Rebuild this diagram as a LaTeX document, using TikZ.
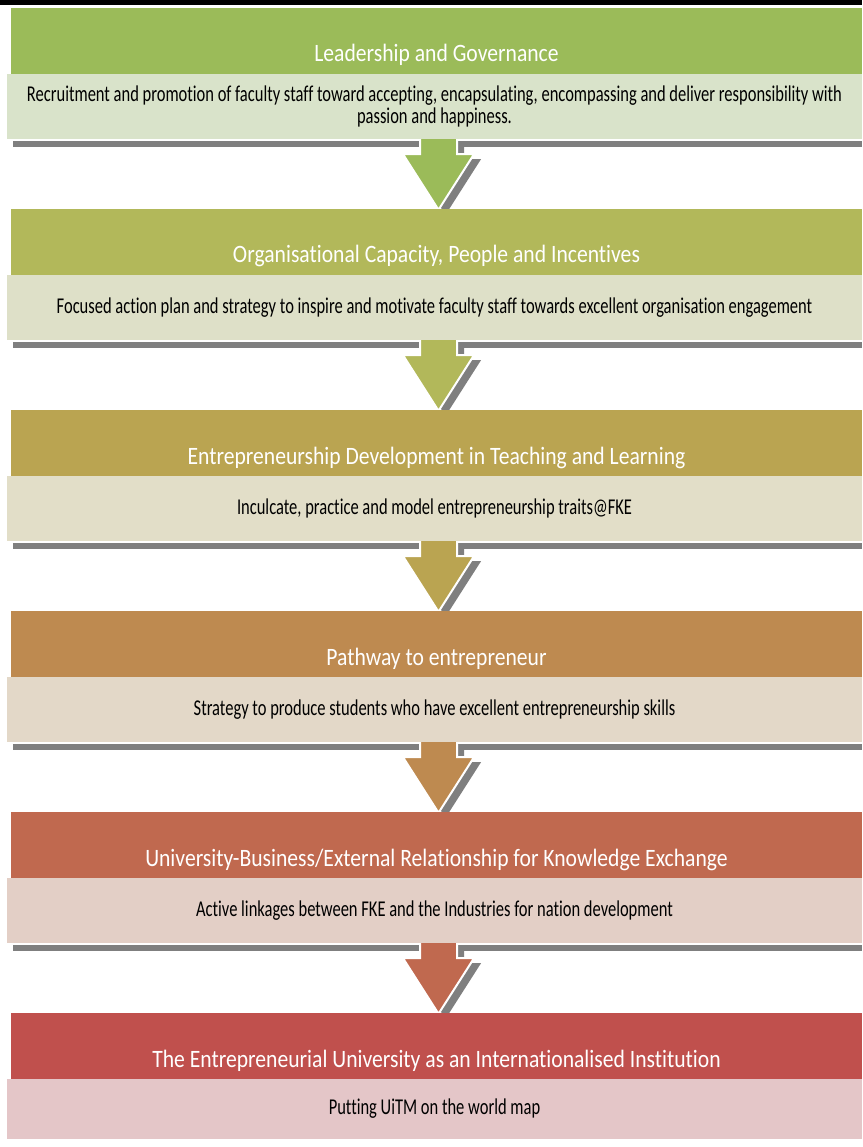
\documentclass[tikz,border=0pt]{standalone}
\usepackage{fontspec}
\setmainfont{Carlito}
\newfontfamily\hfont[FakeStretch=0.865,Ligatures=NoCommon]{Carlito}
\newfontfamily\sfont[FakeStretch=0.73,Ligatures=NoCommon]{Carlito}
\usetikzlibrary{calc}
\pgfdeclarelayer{bg}
\pgfsetlayers{bg,main}
\definecolor{hA}{HTML}{9BBB59}
\definecolor{hB}{HTML}{B2B85A}
\definecolor{hC}{HTML}{BAA451}
\definecolor{hD}{HTML}{BE8A50}
\definecolor{hE}{HTML}{C0694F}
\definecolor{hF}{HTML}{C0504D}
\definecolor{sA}{HTML}{D9E3CA}
\definecolor{sB}{HTML}{DEE0C8}
\definecolor{sC}{HTML}{E2DEC8}
\definecolor{sD}{HTML}{E3D8C8}
\definecolor{sE}{HTML}{E3CFC6}
\definecolor{sF}{HTML}{E4C6C8}
\definecolor{shadowgray}{HTML}{7F7F7F}
\newcommand\blockarrow[3]{%
  \path[#3] ($(axis |- #1.south)+(-18.5,-2)$) -- ($(axis |- #1.south)+(18.5,-2)$)
    -- ($(axis |- #1.south)+(18.5,15)$) -- ($(axis |- #1.south)+(35.5,15)$)
    -- ($(axis |- #2.north)+(0,1)$) -- ($(axis |- #1.south)+(-35.5,15)$)
    -- ($(axis |- #1.south)+(-18.5,15)$) -- cycle;}
\newcommand\shadowarrow[2]{%
  \path[fill=shadowgray] ($(axis |- #1.south)+(-11.5,3)$) -- ($(axis |- #1.south)+(25.5,3)$)
    -- ($(axis |- #1.south)+(25.5,20)$) -- ($(axis |- #1.south)+(42.5,20)$)
    -- ($(axis |- #2.north)+(7,6)$) -- ($(axis |- #1.south)+(-28.5,20)$)
    -- ($(axis |- #1.south)+(-11.5,20)$) -- cycle;}
\newcommand\shadowbar[1]{%
  \fill[shadowgray] ($(#1.south west)+(6,2)$) rectangle ($(#1.south east)+(0,8)$);}
\begin{document}
\begin{tikzpicture}[x=1pt,y=-1pt,
  hdr/.style={rectangle, inner sep=0pt, minimum width=851pt, minimum height=66pt,
    text=white, text height=42pt, text depth=0pt,
    font=\hfont\fontsize{25}{29}\selectfont},
  sub/.style={rectangle, inner sep=0pt, minimum width=855pt, minimum height=65pt,
    text=black, align=center, font=\sfont\fontsize{22.6}{22}\selectfont}]
\useasboundingbox (0,0) rectangle (862,1147);
\coordinate (axis) at (438.5,0);
\fill[black] (0,0) rectangle (862,5);
% sections
\node[hdr, fill=hA] (h1) at (436.5,41) {Leadership and Governance};
\node[sub, fill=sA] (s1) at (434.5,106.5) {Recruitment and promotion of faculty staff toward accepting, encapsulating, encompassing and deliver responsibility with\\passion and happiness.};
\node[hdr, fill=hB] (h2) at (436.5,242) {Organisational Capacity, People and Incentives};
\node[sub, fill=sB] (s2) at (434.5,307.5) {Focused action plan and strategy to inspire and motivate faculty staff towards excellent organisation engagement};
\node[hdr, fill=hC] (h3) at (436.5,443) {Entrepreneurship Development in Teaching and Learning};
\node[sub, fill=sC] (s3) at (434.5,508.5) {Inculcate, practice and model entrepreneurship traits@FKE};
\node[hdr, fill=hD] (h4) at (436.5,644) {Pathway to entrepreneur};
\node[sub, fill=sD] (s4) at (434.5,709.5) {Strategy to produce students who have excellent entrepreneurship skills};
\node[hdr, fill=hE] (h5) at (436.5,845) {University-Business/External Relationship for Knowledge Exchange};
\node[sub, fill=sE] (s5) at (434.5,910.5) {Active linkages between FKE and the Industries for nation development};
\node[hdr, fill=hF] (h6) at (436.5,1046) {The Entrepreneurial University as an Internationalised Institution};
\node[sub, fill=sF, minimum height=60pt] (s6) at (434.5,1109) {Putting UiTM on the world map};
\begin{pgfonlayer}{bg}
\fill[white] (0,0) rectangle (862,1147);
\shadowbar{s1}\shadowbar{s2}\shadowbar{s3}\shadowbar{s4}\shadowbar{s5}
\shadowarrow{s1}{h2}\shadowarrow{s2}{h3}\shadowarrow{s3}{h4}\shadowarrow{s4}{h5}\shadowarrow{s5}{h6}
\blockarrow{s1}{h2}{fill=hA, draw=white, line width=2pt}
\blockarrow{s2}{h3}{fill=hB, draw=white, line width=2pt}
\blockarrow{s3}{h4}{fill=hC, draw=white, line width=2pt}
\blockarrow{s4}{h5}{fill=hD, draw=white, line width=2pt}
\blockarrow{s5}{h6}{fill=hE, draw=white, line width=2pt}
\end{pgfonlayer}
\end{tikzpicture}
\end{document}
